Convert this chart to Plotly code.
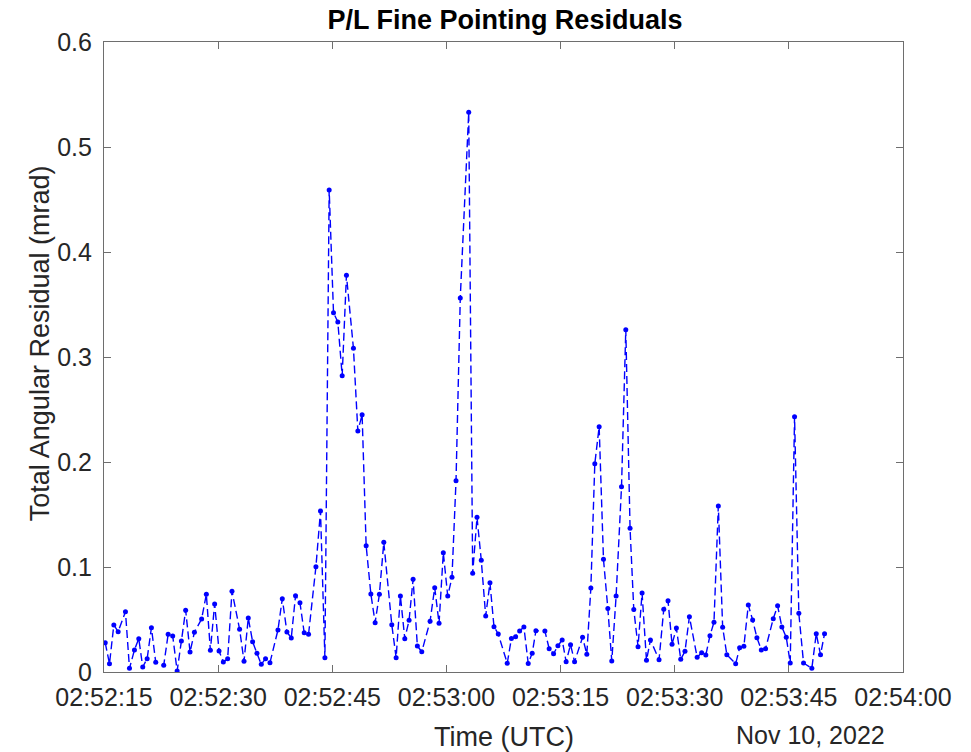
import pandas as pd
import plotly.graph_objects as go

# Sample times, seconds after 02:52:15 UTC on 2022-11-10
t_offset_s = [
    0.16, 0.72, 1.29, 1.86, 2.82, 3.35, 4.00, 4.57, 5.09, 5.67,
    6.23, 6.80, 7.85, 8.43, 9.03, 9.61, 10.17, 10.73, 11.31, 11.88,
    12.83, 13.45, 13.98, 14.54, 15.12, 15.68, 16.25, 16.82, 17.82, 18.40,
    18.96, 19.53, 20.10, 20.67, 21.23, 21.81, 22.86, 23.43, 24.04, 24.61,
    25.17, 25.75, 26.31, 26.88, 27.85, 28.45, 29.03, 29.59, 30.16, 30.73,
    31.30, 31.86, 32.78, 33.36, 33.92, 34.45, 35.07, 35.63, 36.19, 36.77,
    37.82, 38.39, 38.95, 39.53, 40.09, 40.62, 41.18, 41.76, 42.85, 43.46,
    44.03, 44.59, 45.17, 45.73, 46.26, 46.82, 47.93, 48.45, 49.02, 49.58,
    50.16, 50.72, 51.25, 51.81, 52.99, 53.54, 54.09, 54.62, 55.18, 55.75,
    56.27, 56.76, 57.94, 58.50, 59.08, 59.65, 60.21, 60.73, 61.31, 61.84,
    62.89, 63.45, 63.98, 64.50, 65.07, 65.64, 66.21, 66.73, 67.30, 68.01,
    68.57, 69.13, 69.62, 70.18, 70.71, 71.29, 71.81, 72.94, 73.56, 74.12,
    74.65, 75.22, 75.79, 76.35, 76.93, 77.95, 78.54, 79.09, 79.63, 80.16,
    80.73, 81.30, 81.85, 83.01, 83.53, 84.09, 84.67, 85.24, 85.80, 86.38,
    86.94, 87.95, 88.52, 89.08, 89.66, 90.18, 90.75, 91.31, 91.93, 93.02,
    93.60, 94.16, 94.69,
]

# Total angular residual, mrad
residual_mrad = [
    0.0279, 0.0079, 0.0448, 0.0384, 0.0574, 0.0035, 0.0210, 0.0317, 0.0048, 0.0127,
    0.0422, 0.0092, 0.0064, 0.0359, 0.0343, 0.0010, 0.0295, 0.0588, 0.0190, 0.0378,
    0.0505, 0.0740, 0.0207, 0.0648, 0.0200, 0.0095, 0.0127, 0.0769, 0.0407, 0.0102,
    0.0514, 0.0289, 0.0178, 0.0073, 0.0127, 0.0089, 0.0400, 0.0698, 0.0381, 0.0324,
    0.0727, 0.0660, 0.0374, 0.0359, 0.1003, 0.1533, 0.0136, 0.4590, 0.3422, 0.3333,
    0.2822, 0.3778, 0.3083, 0.2295, 0.2450, 0.1203, 0.0743, 0.0470, 0.0740, 0.1235,
    0.0450, 0.0136, 0.0724, 0.0317, 0.0492, 0.0883, 0.0248, 0.0193, 0.0483, 0.0803,
    0.0464, 0.1136, 0.0724, 0.0902, 0.1822, 0.3562, 0.5330, 0.0940, 0.1473, 0.1064,
    0.0533, 0.0850, 0.0431, 0.0362, 0.0083, 0.0319, 0.0336, 0.0390, 0.0429, 0.0081,
    0.0178, 0.0393, 0.0390, 0.0222, 0.0174, 0.0250, 0.0305, 0.0098, 0.0260, 0.0098,
    0.0330, 0.0169, 0.0800, 0.1984, 0.2336, 0.1073, 0.0605, 0.0105, 0.0724, 0.1765,
    0.3260, 0.1369, 0.0595, 0.0241, 0.0752, 0.0111, 0.0305, 0.0117, 0.0597, 0.0679,
    0.0264, 0.0419, 0.0121, 0.0197, 0.0527, 0.0140, 0.0184, 0.0162, 0.0346, 0.0474,
    0.1580, 0.0427, 0.0164, 0.0079, 0.0231, 0.0245, 0.0638, 0.0495, 0.0327, 0.0210,
    0.0222, 0.0508, 0.0631, 0.0429, 0.0330, 0.0086, 0.2430, 0.0559, 0.0086, 0.0035,
    0.0365, 0.0165, 0.0365,
]

start_time = pd.Timestamp("2022-11-10 02:52:15")
x_start = "2022-11-10 02:52:15"
x_end = "2022-11-10 02:54:00"
y_ticks = [0, 0.1, 0.2, 0.3, 0.4, 0.5, 0.6]
y_tick_text = ["0", "0.1", "0.2", "0.3", "0.4", "0.5", "0.6"]

times = start_time + pd.to_timedelta(t_offset_s, unit="s")

FONT = "Liberation Sans, Arial, sans-serif"
AXIS_COLOR = "#6e6e6e"
TEXT_COLOR = "#262626"

fig = go.Figure()
fig.add_trace(
    go.Scatter(
        x=times,
        y=residual_mrad,
        mode="lines+markers",
        line=dict(color="#0000ff", width=1.4, dash="8px,4px"),
        marker=dict(color="#0000ff", size=5),
        showlegend=False,
    )
)

axis_common = dict(
    showline=True,
    linecolor=AXIS_COLOR,
    linewidth=1.2,
    mirror="ticks",
    ticks="inside",
    ticklen=7,
    tickwidth=1,
    tickcolor=AXIS_COLOR,
    showgrid=False,
    zeroline=False,
    tickfont=dict(family=FONT, size=25, color=TEXT_COLOR),
)

fig.update_xaxes(
    range=[x_start, x_end],
    dtick=15000,
    tick0=x_start,
    tickformat="%H:%M:%S",
    ticklabelstandoff=3,
    **axis_common,
)
fig.update_yaxes(
    range=[0, 0.6],
    tickvals=y_ticks,
    ticktext=y_tick_text,
    ticklabelstandoff=6,
    **axis_common,
)

fig.update_layout(
    width=971,
    height=752,
    margin=dict(l=104, r=68, t=42, b=80),
    paper_bgcolor="white",
    plot_bgcolor="white",
    title=dict(
        text="<b>P/L Fine Pointing Residuals</b>",
        font=dict(family=FONT, size=27, color="#000000"),
        x=0.52,
        xanchor="center",
        xref="container",
        y=1 - 20 / 752,
        yanchor="middle",
        yref="container",
    ),
    annotations=[
        dict(
            text="Total Angular Residual (mrad)",
            textangle=-90,
            xref="paper", yref="paper",
            x=-0.080, y=0.522,
            xanchor="center", yanchor="middle",
            showarrow=False,
            font=dict(family=FONT, size=27, color=TEXT_COLOR),
        ),
        dict(
            text="Time (UTC)",
            xref="paper", yref="paper",
            x=0.5, y=-0.103,
            xanchor="center", yanchor="middle",
            showarrow=False,
            font=dict(family=FONT, size=27, color=TEXT_COLOR),
        ),
        dict(
            text="Nov 10, 2022",
            xref="paper", yref="paper",
            x=0.884, y=-0.1,
            xanchor="center", yanchor="middle",
            showarrow=False,
            font=dict(family=FONT, size=25, color=TEXT_COLOR),
        ),
    ],
)

fig.write_html("out.html")
